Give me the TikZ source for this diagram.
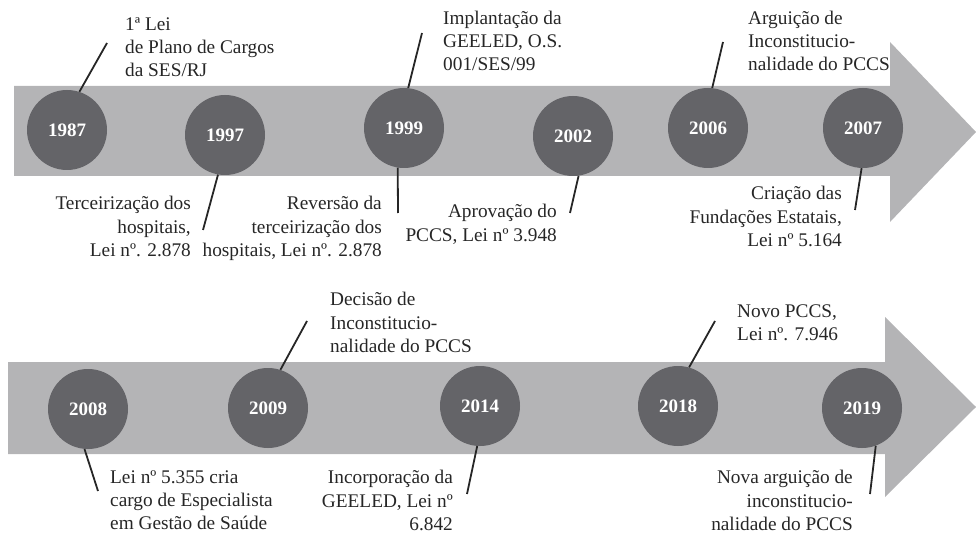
\documentclass[tikz,border=0pt]{standalone}
\usepackage{fontspec}
\setmainfont{Liberation Serif}
\definecolor{bandgray}{RGB}{180,180,182}
\definecolor{dotgray}{RGB}{100,100,104}
\tikzset{
  year/.style={circle,fill=dotgray,minimum size=80pt,inner sep=0pt,text=white,font=\fontsize{19}{21}\selectfont\bfseries},
  band/.style={fill=bandgray,draw=none},
  leader/.style={draw=black!85,line width=1.8pt},
  lbl/.style={inner sep=0pt,font=\fontsize{19.3}{23.3}\selectfont,text=black!85},
  lblL/.style={lbl,anchor=north west,align=left},
  lblR/.style={lbl,anchor=north east,align=right}
}
\begin{document}
\begin{tikzpicture}[x=1pt,y=-1pt]
\useasboundingbox (0,0) rectangle (976,534);
% arrows
\fill[band] (14,86) -- (890,86) -- (890,42) -- (976,132) -- (890,222) -- (890,176) -- (14,176) -- cycle;
\fill[band] (8,362) -- (885,362) -- (885,317) -- (976,407) -- (885,497) -- (885,454) -- (8,454) -- cycle;
% circles top
\node[year] (c1987) at (67,130) {1987};
\node[year] (c1997) at (225,135) {1997};
\node[year] (c1999) at (404,128) {1999};
\node[year] (c2002) at (573,136) {2002};
\node[year] (c2006) at (708,128) {2006};
\node[year] (c2007) at (863,128) {2007};
% circles bottom
\node[year] (c2008) at (88,409) {2008};
\node[year] (c2009) at (268,408) {2009};
\node[year] (c2014) at (480,406) {2014};
\node[year] (c2018) at (678,406) {2018};
\node[year] (c2019) at (862,408) {2019};
% leader ends
\coordinate (e1987) at (107,43);
\coordinate (e1997) at (203,230);
\coordinate (e1999a) at (422,33);
\coordinate (e1999b) at (398,213);
\coordinate (e2002) at (570,213);
\coordinate (e2006) at (723,42);
\coordinate (e2007) at (855,210);
\coordinate (e2008) at (98,491);
\coordinate (e2009) at (307,321);
\coordinate (e2014) at (467,494);
\coordinate (e2018) at (715,321);
\coordinate (e2019) at (870,494);
% leaders
\draw[leader] (c1987.72) -- (e1987);
\draw[leader] (c1997.260) -- (e1997);
\draw[leader] (c1999.84) -- (e1999a);
\draw[leader] (c1999.261) -- (e1999b);
\draw[leader] (c2002.278) -- (e2002);
\draw[leader] (c2006.84) -- (e2006);
\draw[leader] (c2007.268) -- (e2007);
\draw[leader] (c2008.265) -- (e2008);
\draw[leader] (c2009.72) -- (e2009);
\draw[leader] (c2014.266) -- (e2014);
\draw[leader] (c2018.74) -- (e2018);
\draw[leader] (c2019.290) -- (e2019);
% labels top
\node[lblL] (t1987) at (125,17.3) {1ª Lei\\de Plano de Cargos\\da SES/RJ};
\node[lblR] (t1997) at (191,196.3) {Terceirização dos\\hospitais,\\Lei nº. 2.878};
\node[lblL] (t1999a) at (443,10.8) {Implantação da\\GEELED, O.S.\\001/SES/99};
\node[lblR] (t1999b) at (382,196.3) {Reversão da\\terceirização dos\\hospitais, Lei nº. 2.878};
\node[lblR] (t2002) at (557,204.3) {Aprovação do\\PCCS, Lei nº 3.948};
\node[lblL] (t2006) at (748,10.8) {Arguição de\\Inconstitucio-\\nalidade do PCCS};
\node[lblR] (t2007) at (842,186.3) {Criação das\\Fundações Estatais,\\Lei nº 5.164};
% labels bottom
\node[lblL] (t2008) at (110,470.3) {Lei nº 5.355 cria\\cargo de Especialista\\em Gestão de Saúde};
\node[lblL] (t2009) at (330,292.3) {Decisão de\\Inconstitucio-\\nalidade do PCCS};
\node[lblR] (t2014) at (453,470.3) {Incorporação da\\GEELED, Lei nº\\6.842};
\node[lblL] (t2018) at (737,304.3) {Novo PCCS,\\Lei nº. 7.946};
\node[lblR] (t2019) at (853,470.3) {Nova arguição de\\inconstitucio-\\nalidade do PCCS};
\end{tikzpicture}
\end{document}
